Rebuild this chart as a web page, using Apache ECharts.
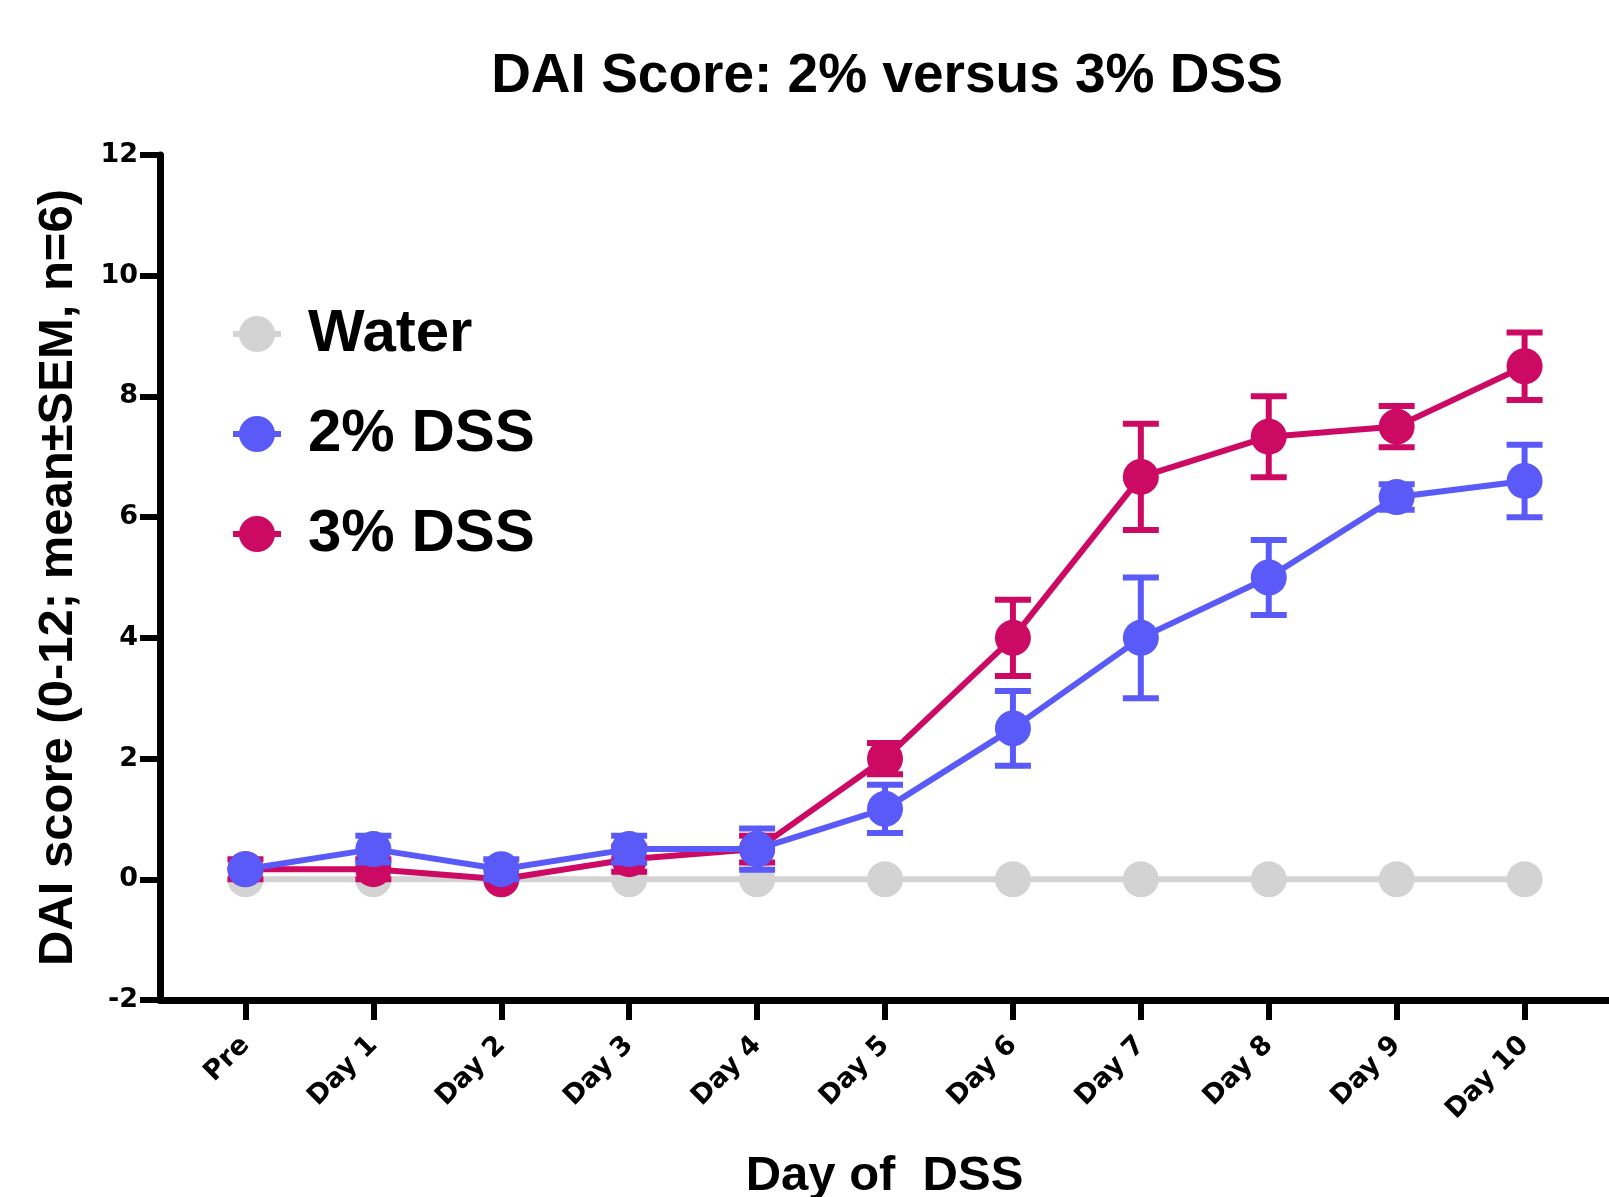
<!DOCTYPE html>
<html>
<head>
<meta charset="utf-8">
<title>DAI Score</title>
<script src="https://cdn.jsdelivr.net/npm/echarts@6/dist/echarts.min.js"></script>
<style>
  html, body { margin: 0; padding: 0; background: #fff; }
  #main { width: 1609px; height: 1197px; }
</style>
</head>
<body>
<div id="main"></div>
<script>
// categories
var days = ['Pre', 'Day 1', 'Day 2', 'Day 3', 'Day 4', 'Day 5', 'Day 6', 'Day 7', 'Day 8', 'Day 9', 'Day 10'];

// series values (mean and SEM)
var water = [0, 0, 0, 0, 0, 0, 0, 0, 0, 0, 0];
var dss2Mean = [0.167, 0.5, 0.167, 0.5, 0.5, 1.167, 2.5, 4.0, 5.0, 6.333, 6.6];
var dss2Sem = [0, 0.22, 0.167, 0.22, 0.34, 0.4, 0.62, 1.0, 0.62, 0.21, 0.6];
var dss3Mean = [0.167, 0.167, 0, 0.333, 0.5, 2.0, 4.0, 6.667, 7.333, 7.5, 8.5];
var dss3Sem = [0.167, 0.167, 0, 0.21, 0.22, 0.26, 0.63, 0.88, 0.67, 0.34, 0.56];

// y axis ticks
var yMin = -2, yMax = 12, yStep = 2;

var GRAY = '#D3D3D3', BLUE = '#5A5AF8', RED = '#CC0A63';
var FONT = 'Liberation Sans, Arial, Helvetica, sans-serif';
var TICKFONT = 'DejaVu Sans, Verdana, sans-serif';

var chart = echarts.init(document.getElementById('main'));

function pairs(vals) {
    return vals.map(function (v, i) { return [i, v]; });
}
function triples(vals, errs) {
    return vals.map(function (v, i) { return [i, v, errs[i]]; });
}

// error bars drawn through the axis scales
function errRender(color) {
    return function (params, api) {
        var x = api.value(0), m = api.value(1), e = api.value(2);
        if (!e) return;
        var hi = api.coord([x, m + e]);
        var lo = api.coord([x, m - e]);
        var hw = 18;
        var st = { stroke: color, lineWidth: 6, fill: null };
        return {
            type: 'group',
            children: [
                { type: 'line', shape: { x1: hi[0], y1: hi[1], x2: lo[0], y2: lo[1] }, style: st },
                { type: 'line', shape: { x1: hi[0] - hw, y1: hi[1], x2: hi[0] + hw, y2: hi[1] }, style: st },
                { type: 'line', shape: { x1: lo[0] - hw, y1: lo[1], x2: lo[0] + hw, y2: lo[1] }, style: st }
            ]
        };
    };
}

var idx = days.map(function (d, i) { return i; });

function lineSeries(name, vals, color, z) {
    return {
        name: name,
        type: 'line',
        data: pairs(vals),
        z: z,
        symbol: 'circle',
        symbolSize: 36,
        showAllSymbol: true,
        lineStyle: { color: color, width: 6 },
        itemStyle: { color: color },
        emphasis: { disabled: true },
        animation: false
    };
}

var option = {
    animation: false,
    backgroundColor: '#fff',
    title: {
        text: 'DAI Score: 2% versus 3% DSS',
        left: 882,
        top: 44,
        textAlign: 'center',
        textStyle: { fontFamily: FONT, fontSize: 55, fontWeight: 'bold', color: '#000' }
    },
    legend: {
        orient: 'vertical',
        left: 225,
        top: 299,
        itemWidth: 48,
        itemHeight: 45,
        itemGap: 40,
        data: ['Water', '2% DSS', '3% DSS'],
        lineStyle: { width: 6 },
        textStyle: { fontFamily: FONT, fontSize: 60, fontWeight: 'bold', color: '#000', padding: [0, 0, 0, 22] }
    },
    grid: { left: 160, right: 0, top: 155, bottom: 197, containLabel: false, outerBoundsMode: 'none' },
    xAxis: {
        type: 'value',
        min: -0.668,
        max: 10.66,
        name: 'Day of  DSS',
        nameLocation: 'middle',
        nameGap: 152,
        nameTextStyle: { fontFamily: FONT, fontSize: 49, fontWeight: 'bold', color: '#000' },
        splitLine: { show: false },
        axisLine: { show: true, onZero: false, lineStyle: { color: '#000', width: 7 } },
        axisTick: { show: true, length: 20, lineStyle: { color: '#000', width: 6 }, customValues: idx },
        axisLabel: {
            customValues: idx,
            rotate: 45,
            margin: 41,
            fontFamily: TICKFONT,
            fontSize: 27,
            fontWeight: 'bold',
            color: '#000',
            formatter: function (v) { return days[Math.round(v)]; }
        }
    },
    yAxis: {
        type: 'value',
        min: yMin,
        max: yMax,
        interval: yStep,
        name: 'DAI score (0-12; mean\u00b1SEM, n=6)',
        nameLocation: 'middle',
        nameGap: 77,
        nameTextStyle: { fontFamily: FONT, fontSize: 49, fontWeight: 'bold', color: '#000' },
        splitLine: { show: false },
        axisLine: { show: true, onZero: false, lineStyle: { color: '#000', width: 7 } },
        axisTick: { show: true, length: 20, lineStyle: { color: '#000', width: 6 } },
        axisLabel: { margin: 22, fontFamily: TICKFONT, fontSize: 27, fontWeight: 'bold', color: '#000' }
    },
    series: [
        lineSeries('Water', water, GRAY, 2),
        {
            name: '3% DSS err',
            type: 'custom',
            z: 3,
            renderItem: errRender(RED),
            encode: { x: 0, y: 1 },
            data: triples(dss3Mean, dss3Sem),
            animation: false
        },
        lineSeries('3% DSS', dss3Mean, RED, 4),
        {
            name: '2% DSS err',
            type: 'custom',
            z: 5,
            renderItem: errRender(BLUE),
            encode: { x: 0, y: 1 },
            data: triples(dss2Mean, dss2Sem),
            animation: false
        },
        lineSeries('2% DSS', dss2Mean, BLUE, 6)
    ]
};

chart.setOption(option);
</script>
</body>
</html>
